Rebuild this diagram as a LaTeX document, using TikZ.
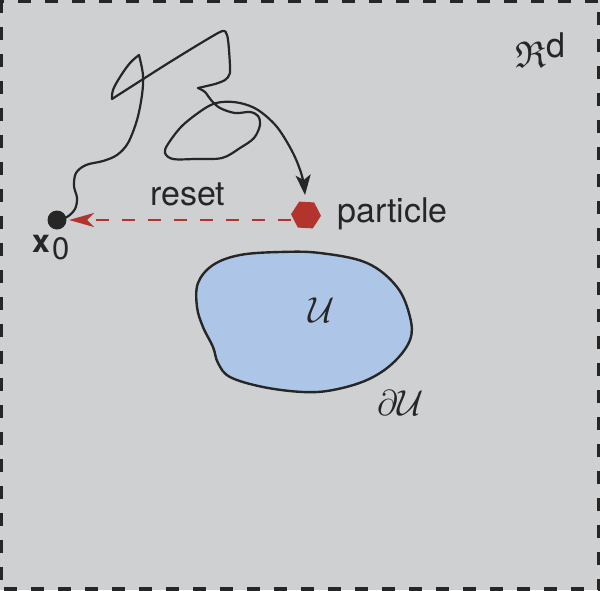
\documentclass[tikz,border=0pt]{standalone}
\usepackage{amssymb}
\usepackage{graphicx}
\usepackage{fontspec}
\setmainfont{TeX Gyre Heros}
\usetikzlibrary{arrows.meta,shapes.geometric,calc}
\definecolor{bggray}{HTML}{CFD0D2}
\definecolor{ink}{HTML}{262626}
\definecolor{partred}{HTML}{B3342C}
\definecolor{blobblue}{HTML}{ADC5E7}
\begin{document}
\begin{tikzpicture}[x=1pt,y=-1pt,
  lbl/.style={inner sep=0pt,anchor=base west,text=ink,font=\fontsize{34}{40}\selectfont},
  mlbl/.style={inner sep=0pt,anchor=base west,text=ink,font=\fontsize{24.88}{30}\selectfont},
  walk/.style={draw=ink,line width=2.2pt,line join=round,line cap=round},
  resetarrow/.style={draw=partred,line width=2.4pt,dash pattern=on 13pt off 13pt,
    -{Stealth[length=25pt,width=14pt,inset=7pt]}},
  borderline/.style={draw=ink,line width=6pt,dash pattern=on 13pt off 14pt}]
\useasboundingbox (0,0) rectangle (600,590);
\fill[bggray] (0,0) rectangle (600,590);
\draw[borderline] (0,0) rectangle (600,590);

% blob
\draw[fill=blobblue,draw=ink,line width=2.4pt] plot[smooth cycle,tension=0.6] coordinates {
 (280,252) (320,253) (367,263) (397,287) (410,317) (410,340) (393,363) (367,380)
 (333,390) (303,392) (263,387) (230,377) (218,363) (213,347) (203,327) (197,307)
 (198,283) (213,265) (240,255)};
\node[mlbl] (U) at (308,322) {\scalebox{1.45}{$\mathcal{U}$}};
\node[mlbl] (dU) at (377,415) {\scalebox{1.45}{$\partial\mathcal{U}$}};

% space label
\node[mlbl] (R) at (515,67) {\scalebox{1.5}{$\mathfrak{R}$}};
\node[lbl] (d) at (546,57) {d};

% start point and particle
\node[circle,fill=ink,minimum size=19pt,inner sep=0pt] (x0) at (57,220) {};
\node[lbl,font=\fontsize{32}{38}\selectfont\bfseries] (xl) at (32,252) {x};
\node[lbl,font=\fontsize{31}{38}\selectfont] (xs) at (52,259) {0};
\node[regular polygon,regular polygon sides=6,fill=partred,minimum size=30pt,inner sep=0pt,rotate=-3] (particle) at (306,215) {};
\node[lbl] (pl) at (337,222) {particle};
\node[lbl] (rl) at (150,205) {reset};

% reset arrow
\draw[resetarrow,shorten >=12pt] (particle.west |- x0.center) -- (x0.center);

% random walk
\coordinate (tip) at (305,195);
\draw[walk] plot[smooth,tension=0.55] coordinates {
 (x0.center) (67,217) (75,209) (77,198) (74,186) (76,173) (86,165) (103,161) (117,155)
 (128,143) (137,120) (142,95) (143,75) (139,55)};
\draw[walk] plot[smooth,tension=0.6] coordinates {
 (139,55) (130,63) (120,77) (113,90) (112,99)};
\draw[walk] plot[smooth,tension=0.4] coordinates {
 (112,99) (170,62) (220,32) (227,35) (229,50) (230,73) (225,80) (215,84) (198,88)};
\draw[walk,-{Stealth[length=20pt,width=15pt,inset=5pt]}] plot[smooth,tension=0.55] coordinates {
 (198,88) (205,92) (211,100) (220,108) (235,113) (250,112) (258,116) (260,125) (254,138)
 (240,148) (222,158) (195,159) (173,159) (165,153) (168,144) (183,125) (207,107)
 (222,102) (240,103) (258,110) (277,127) (293,153) (302,176) (tip)};
\end{tikzpicture}
\end{document}
